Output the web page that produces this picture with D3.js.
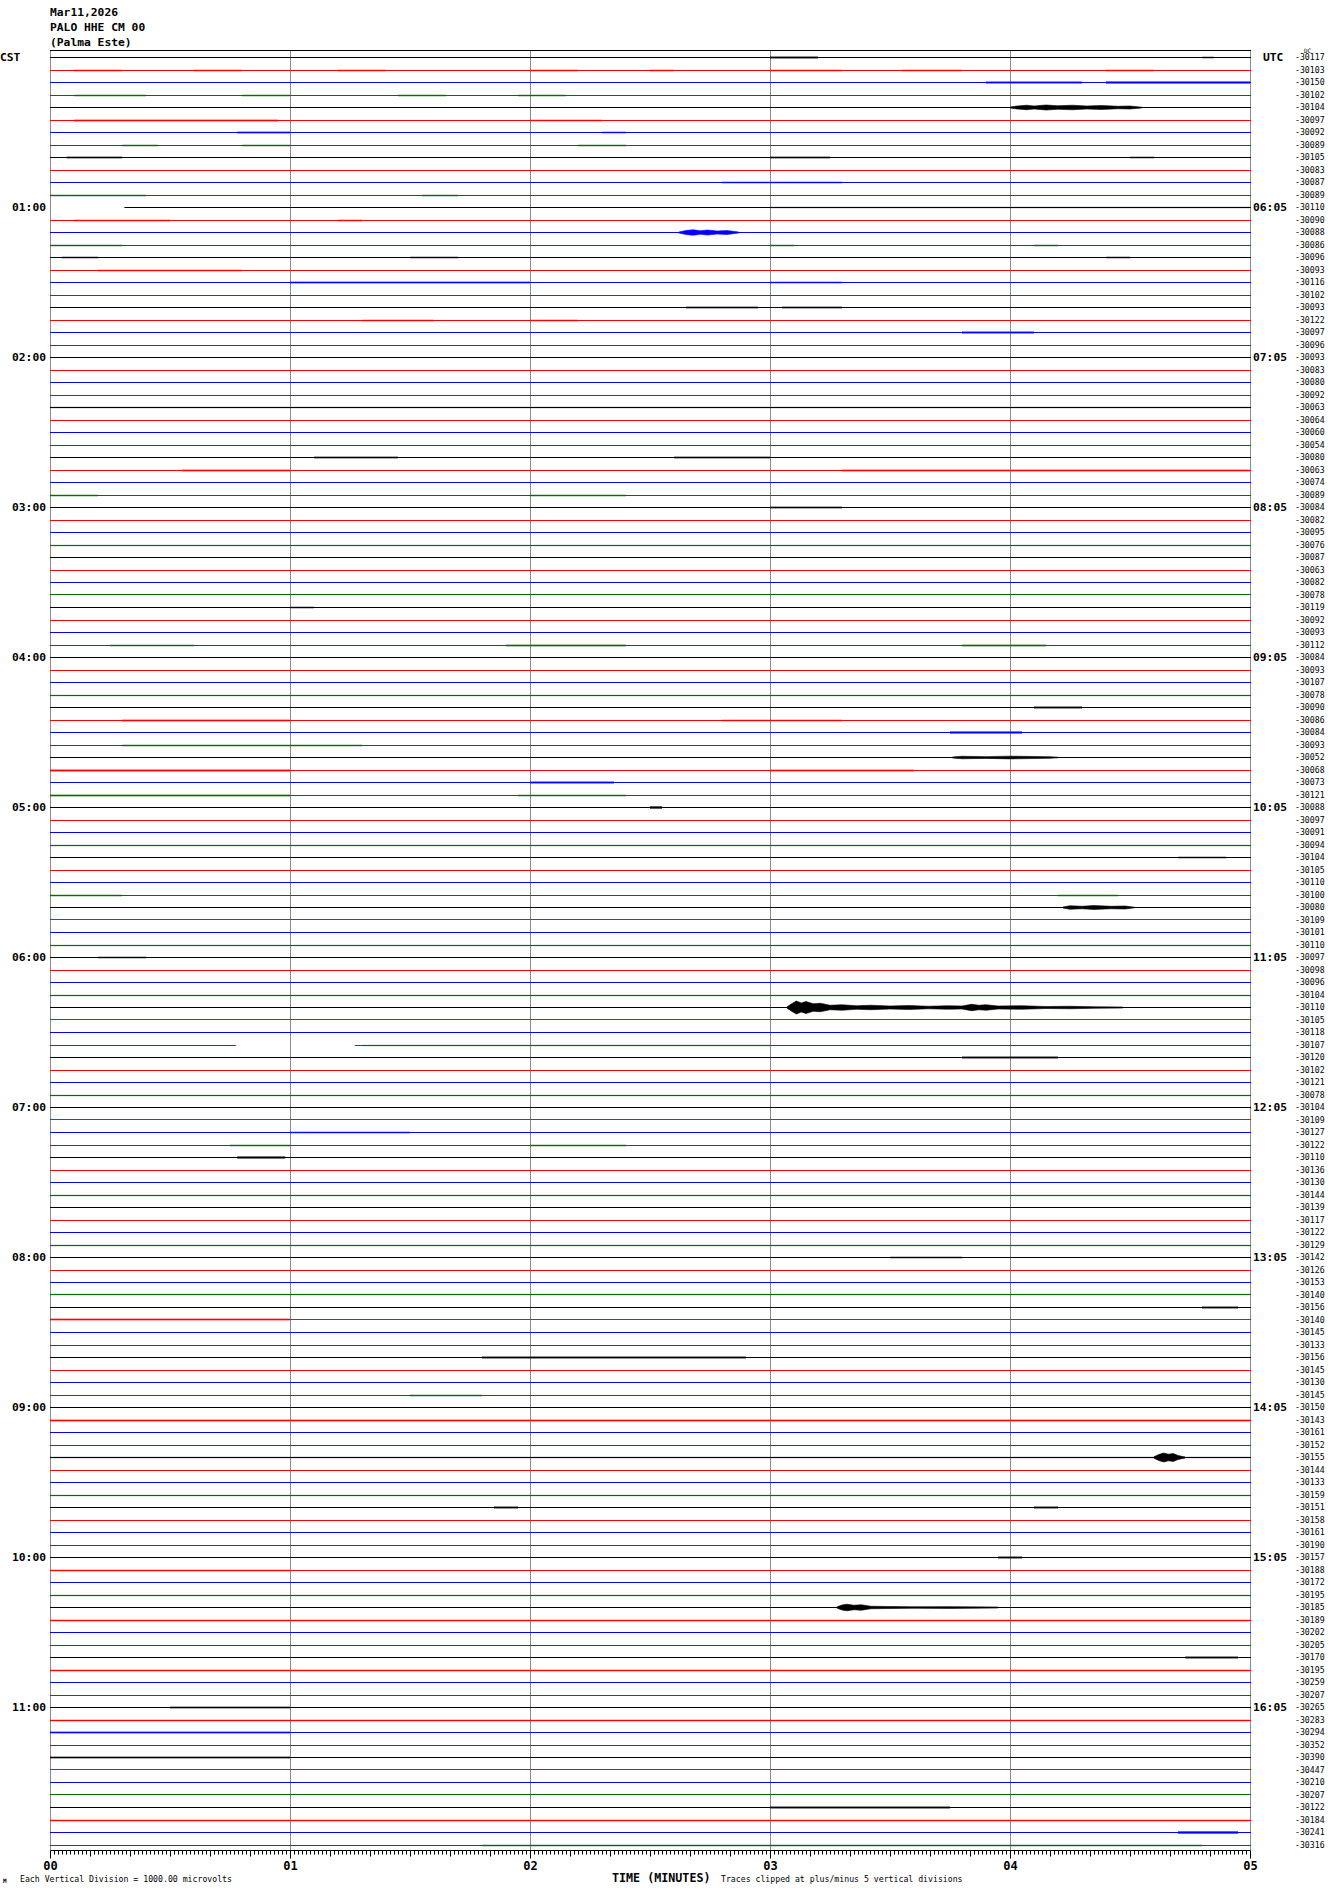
<!DOCTYPE html>
<html><head><meta charset="utf-8">
<script src="https://cdn.jsdelivr.net/npm/d3@7"></script>
<style>body{margin:0;background:#fff}svg{display:block}</style>
</head><body>
<svg id="chart" width="1330" height="1894"></svg>
<script>
// ---------------- data ----------------
const headerLines = ["Mar11,2026", "PALO HHE CM 00", "(Palma Este)"];
const leftZone = "CST";
const rightZone = "UTC";
const cstHourLabels = ["01:00","02:00","03:00","04:00","05:00","06:00","07:00","08:00","09:00","10:00","11:00"];
const utcHourLabels = ["06:05","07:05","08:05","09:05","10:05","11:05","12:05","13:05","14:05","15:05","16:05"];
const minuteTicks = [0, 1, 2, 3, 4, 5];
const minuteLabels = ["00", "01", "02", "03", "04", "05"];
const rowOffsets = [
  -30117,-30103,-30150,-30102,-30104,-30097,-30092,-30089,-30105,-30083,-30087,-30089,
  -30110,-30090,-30088,-30086,-30096,-30093,-30116,-30102,-30093,-30122,-30097,-30096,
  -30093,-30083,-30080,-30092,-30063,-30064,-30060,-30054,-30080,-30063,-30074,-30089,
  -30084,-30082,-30095,-30076,-30087,-30063,-30082,-30078,-30119,-30092,-30093,-30112,
  -30084,-30093,-30107,-30078,-30090,-30086,-30084,-30093,-30052,-30068,-30073,-30121,
  -30088,-30097,-30091,-30094,-30104,-30105,-30110,-30100,-30080,-30109,-30101,-30110,
  -30097,-30098,-30096,-30104,-30110,-30105,-30118,-30107,-30120,-30102,-30121,-30078,
  -30104,-30109,-30127,-30122,-30110,-30136,-30130,-30144,-30139,-30117,-30122,-30129,
  -30142,-30126,-30153,-30140,-30156,-30140,-30145,-30133,-30156,-30145,-30130,-30145,
  -30150,-30143,-30161,-30152,-30155,-30144,-30133,-30159,-30151,-30158,-30161,-30190,
  -30157,-30188,-30172,-30195,-30185,-30189,-30202,-30205,-30170,-30195,-30259,-30207,
  -30265,-30283,-30294,-30352,-30390,-30447,-30210,-30207,-30122,-30184,-30241,-30316
];
const traceColors = ["#000000", "#ff0000", "#0000ff", "#006f00"];
const footerLeft = "Each Vertical Division = 1000.00 microvolts";
const footerRight = "Traces clipped at plus/minus 5 vertical divisions";
const axisTitle = "TIME (MINUTES)";

// data gaps: row, start minute, end minute
const gapRow   = [12, 79];
const gapStart = [0.00, 0.77];
const gapEnd   = [0.31, 1.27];

// seismic events: row + amplitude envelope [minute, microvolts]
const eventRow = [4, 14, 76, 112, 124, 68, 56];
const eventEnvelope = [
  [[4.00,200],[4.03,600],[4.07,900],[4.10,600],[4.15,1000],[4.20,700],[4.26,900],[4.32,600],[4.38,800],[4.45,500],[4.50,600],[4.55,150]],
  [[2.62,200],[2.65,800],[2.68,1100],[2.71,700],[2.74,1000],[2.78,600],[2.82,800],[2.87,200]],
  [[3.07,200],[3.09,1500],[3.11,2600],[3.13,1800],[3.15,2400],[3.18,1500],[3.21,1700],[3.25,900],[3.30,1100],[3.36,700],[3.42,900],[3.50,600],[3.58,800],[3.66,500],[3.74,700],[3.80,600],[3.84,1300],[3.87,900],[3.90,1100],[3.95,600],[4.05,700],[4.15,400],[4.25,500],[4.35,300],[4.47,200]],
  [[4.60,300],[4.62,1200],[4.64,1800],[4.66,1300],[4.68,1600],[4.70,800],[4.73,200]],
  [[3.28,300],[3.30,1000],[3.32,1300],[3.35,900],[3.38,1100],[3.42,500],[3.50,400],[3.60,300],[3.75,350],[3.95,200]],
  [[4.22,200],[4.25,700],[4.30,500],[4.35,800],[4.42,500],[4.48,600],[4.52,100]],
  [[3.76,200],[3.80,500],[3.90,350],[4.00,550],[4.10,400],[4.17,300],[4.20,100]]
];

// small noise bursts: row, start minute, end minute, microvolts
const burstRow = [
  0,0,1,1,1,1,1,1,1,1,2,2,3,3,3,3,5,5,6,6,7,7,7,8,8,8,10,11,11,12,13,13,15,15,15,16,16,16,17,18,18,20,20,21,21,22,
  28,32,32,33,33,35,35,36,39,44,47,47,47,51,52,53,53,54,55,57,57,58,59,59,60,63,64,67,67,71,72,75,79,80,83,86,87,87,88,
  91,95,96,99,100,101,104,107,109,112,115,116,116,120,121,123,125,128,129,132,133,134,136,140,141,142,143
];
const burstStart = [
  3.00,4.80,0.10,0.60,1.20,2.00,2.50,3.00,3.55,4.40,3.90,4.40,0.10,0.80,1.45,1.95,0.10,2.00,0.78,2.30,0.30,0.80,2.20,0.07,3.00,4.50,2.80,0.00,1.55,3.00,0.10,1.20,0.00,3.00,4.10,0.05,1.50,4.40,0.20,1.00,3.00,2.65,3.05,1.30,2.00,3.80,
  0.00,1.10,2.60,0.55,3.30,0.00,2.00,3.00,0.00,1.00,0.25,1.90,3.80,0.00,4.10,0.30,2.80,3.75,0.30,0.00,3.00,2.00,0.00,1.95,2.50,0.00,4.70,0.00,4.20,0.00,0.20,0.00,1.30,3.80,0.00,1.00,0.75,2.00,0.78,
  0.00,0.00,3.50,0.00,4.80,0.00,1.80,1.50,0.00,0.00,0.00,1.85,4.10,3.95,0.00,0.00,0.00,4.73,0.00,0.50,0.00,0.00,0.00,3.00,0.00,4.70,1.80
];
const burstEnd = [
  3.20,4.85,0.30,0.80,1.40,2.20,2.60,3.30,3.80,4.60,4.30,5.00,0.40,1.00,1.65,2.15,0.95,2.30,1.00,2.40,0.45,1.00,2.40,0.30,3.25,4.60,3.30,0.40,1.70,5.00,0.50,1.30,0.30,3.10,4.20,0.20,1.70,4.50,0.80,2.00,3.30,2.95,3.30,1.60,2.20,4.10,
  5.00,1.45,3.00,1.00,5.00,0.20,2.40,3.30,5.00,1.10,0.60,2.40,4.15,5.00,4.30,1.00,3.30,4.05,1.30,1.00,3.60,2.35,1.00,2.40,2.55,5.00,4.90,0.30,4.45,5.00,0.40,5.00,3.00,4.20,5.00,1.50,1.00,2.40,0.98,
  5.00,5.00,3.80,5.00,4.95,1.00,2.90,1.80,5.00,5.00,5.00,1.95,4.20,4.05,1.00,5.00,5.00,4.95,5.00,1.00,5.00,1.00,1.00,3.75,5.00,4.95,4.80
];
const burstAmp = [
  400,300,300,300,300,300,300,300,300,300,400,450,300,300,300,300,350,300,350,300,300,300,300,350,350,300,300,300,300,250,300,300,300,300,300,300,300,300,300,350,300,350,350,300,300,400,
  250,350,350,350,350,300,300,350,250,300,300,350,350,250,400,350,300,450,300,400,350,400,350,300,500,250,300,300,300,250,300,250,250,400,250,300,300,300,450,
  250,250,300,250,400,350,400,300,350,250,250,400,400,400,300,250,300,400,300,350,300,350,350,400,300,500,300
];

// ---------------- drawing ----------------
const svg = d3.select("#chart");
const x = d3.scaleLinear().domain([0, 5]).range([50, 1250]);
const nRows = rowOffsets.length;
const yRow = d3.scaleLinear().domain([0, nRows - 1]).range([57, 1844.5]);
const yr = i => Math.round(yRow(i)) + 0.5;
const amp = d3.scaleLinear().domain([-5000, 5000]).range([12.5, -12.5]).clamp(true);
const px = v => Math.round(x(v)) + 0.5;
const mono = "'DejaVu Sans Mono', 'Liberation Mono', monospace";

// header
svg.selectAll("text.hdr").data(headerLines).join("text")
  .attr("class", "hdr").attr("x", 50).attr("y", (d, i) => 16 + i * 14.8)
  .attr("font-family", mono).attr("font-size", 11.3).attr("font-weight", "bold")
  .text(d => d);

// top border
svg.append("line").attr("x1", 50).attr("x2", 1251).attr("y1", 50.5).attr("y2", 50.5)
  .attr("stroke", "#000").attr("stroke-width", 1);

// vertical minute grid lines
svg.selectAll("line.grid").data(minuteTicks).join("line")
  .attr("class", "grid").attr("x1", d => px(d)).attr("x2", d => px(d))
  .attr("y1", 51).attr("y2", 1850)
  .attr("stroke", "#8c8c8c").attr("stroke-width", 1);

// traces (rows), with gaps
const rows = d3.range(nRows);
const segmentsFor = i => {
  let segs = [[0, 5]];
  gapRow.forEach((r, k) => {
    if (r !== i) return;
    const out = [];
    segs.forEach(([a, b]) => {
      if (gapEnd[k] <= a || gapStart[k] >= b) { out.push([a, b]); return; }
      if (gapStart[k] > a) out.push([a, gapStart[k]]);
      if (gapEnd[k] < b) out.push([gapEnd[k], b]);
    });
    segs = out;
  });
  return segs;
};
const inGap = (r, t) => gapRow.some((g, k) => g === r && t >= gapStart[k] && t <= gapEnd[k]);
const traceG = svg.append("g");
rows.forEach(i => {
  segmentsFor(i).forEach(([a, b]) => {
    traceG.append("line")
      .attr("x1", x(a)).attr("x2", x(b) + 1)
      .attr("y1", yr(i)).attr("y2", yr(i))
      .attr("stroke", traceColors[i % 4]).attr("stroke-width", 1);
  });
});

// noise bursts
const burstG = svg.append("g");
burstRow.forEach((r, k) => {
  let s = burstStart[k], e = burstEnd[k];
  gapRow.forEach((g, j) => { if (g === r && s < gapEnd[j] && s >= gapStart[j]) s = gapEnd[j]; });
  if (e <= s) return;
  const a = amp(burstAmp[k]);
  burstG.append("rect")
    .attr("x", x(s)).attr("width", x(e) - x(s))
    .attr("y", yr(r) + a).attr("height", -2 * a)
    .attr("fill", traceColors[r % 4]).attr("opacity", 0.85);
});

// events as amplitude envelopes
const area = d3.area().x(d => x(d[0])).curve(d3.curveLinear);
eventRow.forEach((r, k) => {
  const base = yr(r);
  svg.append("path")
    .datum(eventEnvelope[k])
    .attr("d", area.y0(d => base - amp(d[1])).y1(d => base + amp(d[1])))
    .attr("fill", traceColors[r % 4]).attr("stroke", traceColors[r % 4]).attr("stroke-width", 0.6);
});

// left / right time labels
svg.append("text").attr("x", 0).attr("y", yRow(0) + 4).attr("font-family", mono)
  .attr("font-size", 11.3).attr("font-weight", "bold").text(leftZone);
svg.append("text").attr("x", 1263).attr("y", yRow(0) + 4).attr("font-family", mono)
  .attr("font-size", 11.3).attr("font-weight", "bold").text(rightZone);
svg.selectAll("text.cst").data(cstHourLabels).join("text").attr("class", "cst")
  .attr("x", 12).attr("y", (d, i) => yRow((i + 1) * 12) + 4)
  .attr("font-family", mono).attr("font-size", 11.3).attr("font-weight", "bold").text(d => d);
svg.selectAll("text.utc").data(utcHourLabels).join("text").attr("class", "utc")
  .attr("x", 1253).attr("y", (d, i) => yRow((i + 1) * 12) + 4)
  .attr("font-family", mono).attr("font-size", 11.3).attr("font-weight", "bold").text(d => d);

// right offset labels
svg.selectAll("text.off").data(rowOffsets).join("text").attr("class", "off")
  .attr("x", 1295).attr("y", (d, i) => yRow(i) + 3)
  .attr("font-family", mono).attr("font-size", 8.2).text(d => d);
svg.append("text").attr("x", 1304).attr("y", yRow(0) - 4.5).attr("font-family", mono)
  .attr("font-size", 6).text("DC");

// bottom axis
const axisY = 1850;
const axisG = svg.append("g").attr("transform", `translate(0.5,${axisY + 0.5})`);
const secTicks = d3.range(0, 301).map(s => s / 60);
axisG.append("line").attr("x1", x(0)).attr("x2", x(5)).attr("y1", 0).attr("y2", 0).attr("stroke", "#000");
axisG.selectAll("line.t").data(secTicks).join("line").attr("class", "t")
  .attr("x1", d => Math.round(x(d))).attr("x2", d => Math.round(x(d)))
  .attr("y1", 0).attr("y2", (d, i) => i % 60 === 0 ? 8 : (i % 10 === 0 ? 6 : 4))
  .attr("stroke", "#000");
axisG.selectAll("text.ml").data(minuteTicks).join("text").attr("class", "ml")
  .attr("x", d => x(d)).attr("y", 19).attr("text-anchor", "middle")
  .attr("font-family", mono).attr("font-size", 12).attr("font-weight", "bold")
  .text((d, i) => minuteLabels[i]);

svg.append("text").attr("x", 612).attr("y", 1882).attr("font-family", mono)
  .attr("font-size", 11.7).attr("font-weight", "bold").text(axisTitle);
svg.append("text").attr("x", 20).attr("y", 1882).attr("font-family", mono)
  .attr("font-size", 8.2).text(footerLeft);
svg.append("text").attr("x", 721).attr("y", 1882).attr("font-family", mono)
  .attr("font-size", 8.2).text(footerRight);
svg.append("text").attr("x", 3).attr("y", 1883).attr("font-family", mono)
  .attr("font-size", 6).attr("font-weight", "bold").text("M");
</script>
</body></html>
